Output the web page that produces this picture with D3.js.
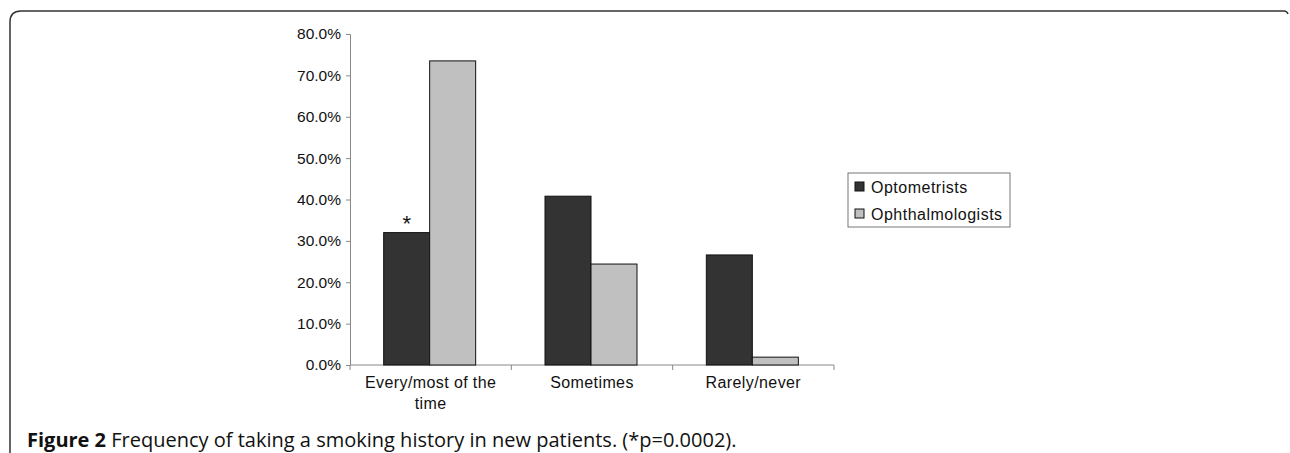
<!DOCTYPE html>
<html>
<head>
<meta charset="utf-8">
<script src="https://cdn.jsdelivr.net/npm/d3@7"></script>
<style>
  body { margin: 0; background: #fff; }
  svg { display: block; }
</style>
</head>
<body>
<div id="chart"></div>
<script>
const categories = ["Every/most of the time", "Sometimes", "Rarely/never"];
const seriesNames = ["Optometrists", "Ophthalmologists"];
const optometrists = [0.32, 0.408, 0.266];
const ophthalmologists = [0.735, 0.244, 0.019];
const yTicks = [0, 0.1, 0.2, 0.3, 0.4, 0.5, 0.6, 0.7, 0.8];
const colors = ["#333333", "#c0c0c0"];

const width = 1290, height = 453;
const plotLeft = 350, plotRight = 834, plotTop = 34, plotBottom = 365;

const svg = d3.select("#chart").append("svg")
    .attr("width", width)
    .attr("height", height);

// outer frame with rounded top-left corner
svg.append("path")
    .attr("d", "M10,453 L10,22 Q10,11 21,11 L1284,11 Q1287,11 1288,14")
    .attr("fill", "none")
    .attr("stroke", "#333")
    .attr("stroke-width", 1.5);

let dataset = categories.map((c, i) => [c, optometrists[i], ophthalmologists[i]]);

let xScale = d3.scaleBand()
    .domain(categories)
    .range([plotLeft, plotRight]);

let xInner = d3.scaleBand()
    .domain(seriesNames)
    .range([0, 92])
    .padding(0);

let yScale = d3.scaleLinear()
    .domain([0, 0.8])
    .range([plotBottom, plotTop]);

let yAxis = d3.axisLeft(yScale)
    .tickValues(yTicks)
    .tickFormat(d3.format(".1%"))
    .tickSizeOuter(0)
    .tickSize(4);

let gy = svg.append("g")
    .attr("transform", "translate(" + plotLeft + ",0)")
    .call(yAxis);
gy.select(".domain").attr("stroke", "#888");
gy.selectAll(".tick line").attr("stroke", "#888");
gy.selectAll(".tick text")
    .attr("font-family", "Liberation Sans, Arial, sans-serif")
    .attr("font-size", "15.5px")
    .attr("fill", "#111")
    .attr("x", -9);

// x axis with ticks between categories
let gx = svg.append("g");
gx.append("line")
    .attr("x1", plotLeft).attr("x2", plotRight)
    .attr("y1", plotBottom).attr("y2", plotBottom)
    .attr("stroke", "#888");
let bounds = categories.map(c => xScale(c)).concat([plotRight]);
gx.selectAll("line.tk")
    .data(bounds)
    .enter()
    .append("line")
    .attr("class", "tk")
    .attr("x1", d => d).attr("x2", d => d)
    .attr("y1", plotBottom).attr("y2", plotBottom + 5)
    .attr("stroke", "#888");

// category labels
let labelLines = [["Every/most of the", "time"], ["Sometimes"], ["Rarely/never"]];
categories.forEach((c, i) => {
    let t = svg.append("text")
        .attr("x", xScale(c) + xScale.bandwidth() / 2)
        .attr("y", plotBottom + 23)
        .attr("text-anchor", "middle")
        .attr("font-family", "Liberation Sans, Arial, sans-serif")
        .attr("font-size", "16px")
        .attr("letter-spacing", "0.4px")
        .attr("fill", "#111");
    labelLines[i].forEach((l, j) => {
        t.append("tspan")
            .attr("x", xScale(c) + xScale.bandwidth() / 2)
            .attr("dy", j === 0 ? 0 : 21)
            .text(l);
    });
});

// bars
const barOffset = (xScale.bandwidth() - 92) / 2 - 1;
[optometrists, ophthalmologists].forEach((vals, s) => {
    svg.selectAll("rect.s" + s)
        .data(dataset)
        .enter()
        .append("rect")
        .attr("class", "s" + s)
        .attr("x", d => xScale(d[0]) + barOffset + xInner(seriesNames[s]))
        .attr("y", d => yScale(d[s + 1]))
        .attr("width", xInner.bandwidth())
        .attr("height", d => plotBottom - yScale(d[s + 1]))
        .attr("fill", colors[s])
        .attr("stroke", "#111")
        .attr("stroke-width", 1);
});

// significance marker
svg.append("text")
    .attr("x", xScale(categories[0]) + barOffset + xInner.bandwidth() / 2)
    .attr("y", yScale(optometrists[0]) - 2)
    .attr("text-anchor", "middle")
    .attr("font-family", "Liberation Sans, Arial, sans-serif")
    .attr("font-size", "22px")
    .attr("fill", "#111")
    .text("*");

// legend
let legend = svg.append("g").attr("transform", "translate(848,173)");
legend.append("rect")
    .attr("width", 162).attr("height", 54)
    .attr("fill", "#fff")
    .attr("stroke", "#777");
seriesNames.forEach((n, i) => {
    legend.append("rect")
        .attr("x", 7).attr("y", 9 + i * 27)
        .attr("width", 9).attr("height", 9)
        .attr("fill", colors[i])
        .attr("stroke", "#111");
    legend.append("text")
        .attr("x", 23).attr("y", 20 + i * 27)
        .attr("font-family", "Liberation Sans, Arial, sans-serif")
        .attr("font-size", "16px")
        .attr("letter-spacing", "0.5px")
        .attr("fill", "#111")
        .text(n);
});

// caption
let cap = svg.append("text")
    .attr("x", 27).attr("y", 447)
    .attr("font-family", "Open Sans, Noto Sans, sans-serif")
    .attr("font-size", "20px")
    .attr("fill", "#111");
cap.append("tspan").attr("font-weight", "bold").text("Figure 2");
cap.append("tspan").text(" Frequency of taking a smoking history in new patients. (*p=0.0002).");
</script>
</body>
</html>
